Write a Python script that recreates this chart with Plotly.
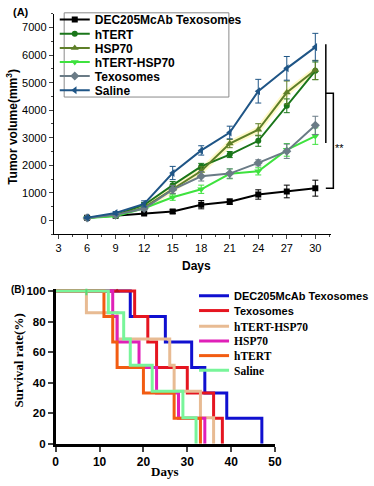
import plotly.graph_objects as go

W, H = 374, 486

# ---------------- Panel A data ----------------
days = [6, 9, 12, 15, 18, 21, 24, 27, 30]
tumor_names = ["DEC205McAb Texosomes", "hTERT", "HSP70", "hTERT-HSP70", "Texosomes", "Saline"]
dec205 = [100, 170, 250, 320, 570, 680, 940, 1050, 1170]
dec205_err = [30, 40, 50, 70, 150, 100, 170, 230, 290]
htert = [100, 200, 560, 1280, 1960, 2390, 2890, 4160, 5430]
htert_err = [30, 40, 90, 130, 110, 110, 200, 250, 320]
hsp70 = [100, 190, 470, 1130, 1790, 2790, 3290, 4640, 5460]
hsp70_err = [30, 40, 80, 150, 160, 150, 220, 420, 350]
htert_hsp70 = [90, 150, 440, 840, 1130, 1690, 1780, 2560, 3060]
htert_hsp70_err = [30, 40, 70, 110, 150, 180, 130, 230, 300]
texosomes = [90, 200, 430, 1120, 1600, 1700, 2090, 2510, 3450]
texosomes_err = [30, 40, 70, 150, 170, 170, 110, 260, 330]
saline = [100, 270, 600, 1720, 2540, 3190, 4690, 5520, 6290]
saline_err = [30, 50, 110, 240, 170, 230, 430, 430, 500]
x_ticks_a = [3, 6, 9, 12, 15, 18, 21, 24, 27, 30]
y_ticks_a = [0, 1000, 2000, 3000, 4000, 5000, 6000, 7000]

# ---------------- Panel B data ----------------
surv_names = ["DEC205McAb Texosomes", "Texosomes", "hTERT-HSP70", "HSP70", "hTERT", "Saline"]
dec205_t = [0, 17, 25, 31, 34, 39, 47]
dec205_s = [100, 83.3, 66.7, 50, 33.3, 16.7, 0]
texo_t = [0, 18, 21, 23, 30, 36, 38]
texo_s = [100, 83.3, 66.7, 50, 33.3, 16.7, 0]
hh_t = [0, 7, 14, 26, 27, 33, 36]
hh_s = [100, 85.7, 68.6, 51.4, 34.3, 17.1, 0]
hsp_t = [0, 13, 14, 19, 23, 28, 34]
hsp_s = [100, 83.3, 66.7, 50, 33.3, 16.7, 0]
ht_t = [0, 11, 13, 14, 20, 27, 33]
ht_s = [100, 83.3, 66.7, 50, 33.3, 16.7, 0]
sal_t = [0, 12, 15.5, 17, 22, 29, 32]
sal_s = [100, 85.7, 68.6, 51.4, 34.3, 17.1, 0]
x_ticks_b = [0, 10, 20, 30, 40, 50]
y_ticks_b = [0, 20, 40, 60, 80, 100]

SANS = "Liberation Sans, Arial, sans-serif"
SERIF = "Liberation Serif, Times New Roman, serif"


def px(x):
    return x / W


def py(y):
    return 1 - y / H


fig = go.Figure()

# ---- Panel A traces ----
a_series = [
    (dec205, dec205_err, "#000000", "square", 6),
    (htert, htert_err, "#1a761a", "circle", 6),
    (hsp70, hsp70_err, "#5e7f28", "triangle-up", 7),
    (htert_hsp70, htert_hsp70_err, "#3ee23e", "triangle-down", 7),
    (texosomes, texosomes_err, "#6a7b86", "diamond", 7),
    (saline, saline_err, "#1f5586", "triangle-left", 7),
]

# pale yellow glow behind HSP70
fig.add_trace(go.Scatter(x=days[2:], y=hsp70[2:], mode="lines",
                         line=dict(color="rgba(255,248,185,0.8)", width=6),
                         showlegend=False, hoverinfo="skip", xaxis="x", yaxis="y"))

a_leg_y = [15.7, 30.5, 44.8, 59.2, 73.5, 88]
for i, ((vals, err, col, sym, ms), name) in enumerate(zip(a_series, tumor_names)):
    lg = "legend" if i == 0 else f"legend{i+1}"
    fig.add_trace(go.Scatter(
        x=days, y=vals, name=name, mode="lines+markers",
        line=dict(color=col, width=2),
        marker=dict(symbol=sym, size=ms, color=col),
        error_y=dict(type="data", array=err, thickness=1, width=3, color=col),
        xaxis="x", yaxis="y", legend=lg))

# ---- Panel B traces ----
b_series = [
    (dec205_t, dec205_s, "#1010d0", f'<span style="font-family:{SANS}">DEC205McAb Texosomes</span>'),
    (texo_t, texo_s, "#e51520", f'<span style="font-family:{SANS}">Texosomes</span>'),
    (hh_t, hh_s, "#e8bb93", f'<span style="font-family:{SERIF}">hTERT-HSP70</span>'),
    (hsp_t, hsp_s, "#e020b8", f'<span style="font-family:{SERIF}">HSP70</span>'),
    (ht_t, ht_s, "#f25c12", f'<span style="font-family:{SERIF}">hTERT</span>'),
    (sal_t, sal_s, "#78f59a", f'<span style="font-family:{SERIF}">Saline</span>'),
]
for j, (t, s, col, name) in enumerate(b_series):
    lg = f"legend{j+7}"
    fig.add_trace(go.Scatter(
        x=t, y=s, name=name, mode="lines", line=dict(color=col, width=3, shape="hv"),
        xaxis="x2", yaxis="y2", legend=lg))

# censor marks
fig.add_trace(go.Scatter(x=[7], y=[100], mode="markers", showlegend=False,
                         marker=dict(symbol="line-ns-open", size=6, color="#55dd77", line=dict(width=2)),
                         xaxis="x2", yaxis="y2"))
fig.add_trace(go.Scatter(x=[14], y=[100], mode="markers", showlegend=False,
                         marker=dict(symbol="triangle-up", size=5, color="#c01020"),
                         xaxis="x2", yaxis="y2"))

layout = dict(
    width=W, height=H, autosize=False,
    margin=dict(l=0, r=0, t=0, b=0),
    paper_bgcolor="white", plot_bgcolor="white",
    font=dict(family=SANS, color="black", size=11),
    xaxis=dict(domain=[px(54), px(348)], range=[2.5, 31.6], tickvals=x_ticks_a,
               showline=True, linecolor="black", linewidth=1.2, ticks="outside",
               ticklen=4, tickwidth=1.2, showgrid=False, zeroline=False,
               minor=dict(dtick=1.5, tick0=3, ticks="outside", ticklen=2, tickwidth=1, showgrid=False),
               tickfont=dict(family=SANS, size=11), anchor="y"),
    yaxis=dict(domain=[py(235), py(10)], range=[-500, 7500], tickvals=y_ticks_a,
               showline=True, linecolor="black", linewidth=1.2, ticks="outside",
               ticklen=4, tickwidth=1.2, showgrid=False, zeroline=False,
               minor=dict(dtick=500, tick0=0, ticks="outside", ticklen=2, tickwidth=1, showgrid=False),
               tickfont=dict(family=SANS, size=11), anchor="x"),
    xaxis2=dict(domain=[px(56), px(289)], range=[0, 50], tickvals=x_ticks_b,
                showline=True, linecolor="black", linewidth=2.5, ticks="outside",
                ticklen=5, tickwidth=2, showgrid=False, zeroline=False,
                tickfont=dict(family=SANS, size=12, weight="bold"), anchor="y2"),
    yaxis2=dict(domain=[py(449), py(290.7)], range=[0, 101.5], tickvals=y_ticks_b,
                showline=True, linecolor="black", linewidth=2.5, ticks="outside",
                ticklen=5, tickwidth=2, showgrid=False, zeroline=False,
                tickfont=dict(family=SANS, size=11.5, weight="bold"), anchor="x2"),
)

# legends
for i in range(6):
    key = "legend" if i == 0 else f"legend{i+1}"
    layout[key] = dict(x=px(55), y=py(a_leg_y[i]), xanchor="left", yanchor="middle",
                       bgcolor="rgba(0,0,0,0)", borderwidth=0,
                       font=dict(family=SANS, size=12, weight="bold"), itemclick=False)
b_leg_y = [298, 313, 329, 344, 359, 374]
for j in range(6):
    key = f"legend{j+7}"
    layout[key] = dict(x=px(203), y=py(b_leg_y[j]), xanchor="left", yanchor="middle",
                       bgcolor="rgba(0,0,0,0)", borderwidth=0,
                       font=dict(size=11.5 if j > 1 else 11, weight="bold"), itemclick=False)

fig.update_layout(**layout)

shapes = [
    dict(type="rect", xref="paper", yref="paper", x0=px(65), x1=px(240), y0=py(95), y1=py(9),
         line=dict(color="#8a8a8a", width=1), fillcolor="white", layer="below"),
    dict(type="line", xref="paper", yref="paper", x0=px(343), x1=px(343), y0=py(41), y1=py(142),
         line=dict(color="black", width=1.5)),
    dict(type="path", xref="paper", yref="paper",
         path=f"M {px(343)} {py(91)} L {px(351)} {py(91)} L {px(351)} {py(188)} L {px(343)} {py(188)}",
         line=dict(color="black", width=1.5)),
]
fig.update_layout(shapes=shapes)

ann = [
    dict(text="<b>(A)</b>", x=px(19), y=py(8), font=dict(size=11, family=SANS)),
    dict(text="<b>(B)</b>", x=px(25), y=py(291), xanchor="right", font=dict(size=10, family=SANS)),
    dict(text="<b>Tumor volume(mm<sup>3</sup>)</b>", x=px(10), y=py(125), textangle=-90,
         font=dict(size=12, family=SANS)),
    dict(text="<b>Days</b>", x=px(206), y=py(267), font=dict(size=12, family=SANS)),
    dict(text="**", x=px(358), y=py(147), font=dict(size=11, family=SANS)),
    dict(text="<b>Days</b>", x=px(172), y=py(477), font=dict(size=13, family=SERIF)),
    dict(text="<b>Survival rate(%)</b>", x=px(17), y=py(364), textangle=-90,
         font=dict(size=13, family=SERIF)),
]
for a in ann:
    a.setdefault("xanchor", "center")
    a.update(xref="paper", yref="paper", showarrow=False, yanchor="middle")
fig.update_layout(annotations=ann)

fig.write_html("out.html", config={"displayModeBar": False},
               post_script="document.body.style.margin='0px';")
